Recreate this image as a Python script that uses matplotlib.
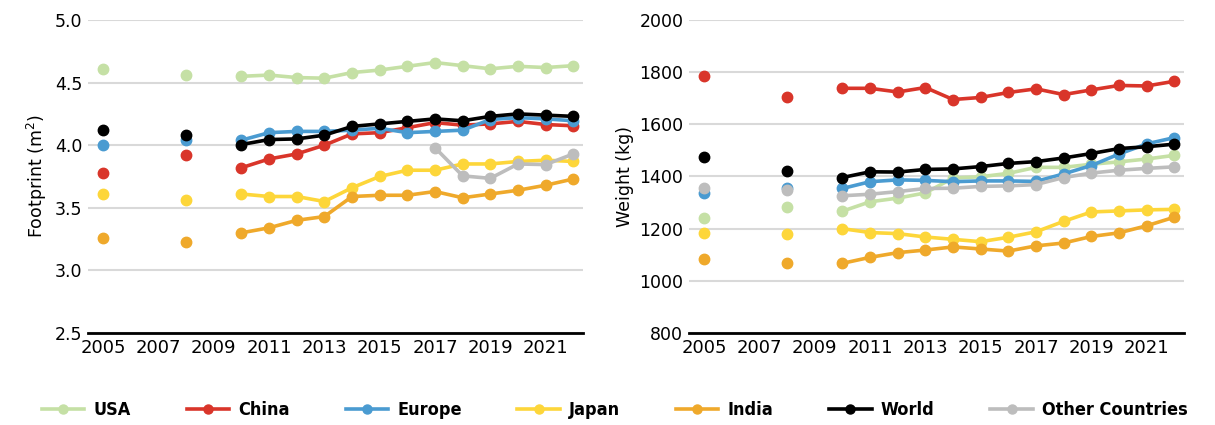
import matplotlib
matplotlib.use('Agg')
import matplotlib.pyplot as plt
from matplotlib.lines import Line2D
from matplotlib.ticker import FormatStrFormatter
import numpy as np

nan = np.nan

# years on the x axis (2006, 2007, 2009 have no data)
years = list(range(2005, 2023))

names = ['USA', 'China', 'Europe', 'Japan', 'India', 'World', 'Other Countries']
colors = ['#C5E0A5', '#D9352A', '#4A9BD1', '#FDD63A', '#EFA92B', '#000000', '#BDBDBD']

# footprint (m2)
fp_usa = [4.61, nan, nan, 4.56, nan, 4.55, 4.56, 4.54, 4.535, 4.58, 4.60, 4.63, 4.66, 4.635, 4.61, 4.63, 4.62, 4.635]
fp_china = [3.78, nan, nan, 3.92, nan, 3.82, 3.89, 3.93, 4.00, 4.09, 4.10, 4.14, 4.18, 4.16, 4.17, 4.19, 4.165, 4.155]
fp_europe = [4.00, nan, nan, 4.045, nan, 4.04, 4.10, 4.11, 4.11, 4.12, 4.135, 4.10, 4.11, 4.12, 4.205, 4.22, 4.21, 4.195]
fp_japan = [3.61, nan, nan, 3.56, nan, 3.61, 3.59, 3.59, 3.55, 3.66, 3.75, 3.80, 3.80, 3.85, 3.85, 3.87, 3.88, 3.87]
fp_india = [3.26, nan, nan, 3.23, nan, 3.30, 3.34, 3.40, 3.43, 3.59, 3.60, 3.60, 3.63, 3.58, 3.61, 3.64, 3.68, 3.73]
fp_world = [4.12, nan, nan, 4.08, nan, 4.005, 4.045, 4.05, 4.08, 4.15, 4.17, 4.19, 4.21, 4.195, 4.23, 4.25, 4.24, 4.23]
fp_other = [nan, nan, nan, nan, nan, nan, nan, nan, nan, nan, nan, nan, 3.98, 3.755, 3.735, 3.85, 3.845, 3.93]

# weight (kg)
wt_usa = [1240, nan, nan, 1282, nan, 1267, 1303, 1317, 1337, 1394, 1399, 1412, 1435, 1435, 1447, 1456, 1467, 1481]
wt_china = [1785, nan, nan, 1706, nan, 1738, 1738, 1724, 1741, 1695, 1703, 1722, 1736, 1714, 1732, 1749, 1747, 1765]
wt_europe = [1337, nan, nan, 1356, nan, 1354, 1380, 1387, 1385, 1380, 1383, 1383, 1381, 1410, 1442, 1486, 1525, 1549]
wt_japan = [1185, nan, nan, 1181, nan, 1200, 1185, 1181, 1168, 1159, 1150, 1167, 1188, 1228, 1264, 1268, 1272, 1274]
wt_india = [1082, nan, nan, 1067, nan, 1067, 1090, 1108, 1118, 1130, 1122, 1114, 1134, 1145, 1170, 1184, 1211, 1244]
wt_world = [1473, nan, nan, 1422, nan, 1396, 1418, 1417, 1427, 1429, 1438, 1450, 1457, 1471, 1488, 1507, 1514, 1524]
wt_other = [1355, nan, nan, 1347, nan, 1326, 1332, 1342, 1354, 1355, 1362, 1364, 1369, 1396, 1413, 1424, 1431, 1437]

footprint = [fp_usa, fp_china, fp_europe, fp_japan, fp_india, fp_world, fp_other]
weight = [wt_usa, wt_china, wt_europe, wt_japan, wt_india, wt_world, wt_other]

fig = plt.figure(figsize=(12.15, 4.25), dpi=100)
ax1 = fig.add_axes([0.0724, 0.2165, 0.4074, 0.7365])
ax2 = fig.add_axes([0.567, 0.2165, 0.4075, 0.7365])


def setup(ax, data, ylim, step, label):
    for vals, c in zip(data, colors):
        ax.plot(years, vals, color=c, lw=2.6, marker='o', markersize=7.5, solid_capstyle='round')
    ax.set_xlim(2004.45, 2022.35)
    ax.set_ylim(*ylim)
    ax.set_yticks(np.arange(ylim[0], ylim[1] + step / 2, step))
    ax.set_xticks(range(2005, 2023, 2))
    ax.grid(axis='y', color='#D9D9D9', lw=1.5)
    ax.set_axisbelow(True)
    for s in ['top', 'right', 'left']:
        ax.spines[s].set_visible(False)
    ax.spines['bottom'].set_color('black')
    ax.spines['bottom'].set_linewidth(2)
    ax.tick_params(length=0)
    ax.tick_params(axis='y', labelsize=12.5, pad=4)
    ax.tick_params(axis='x', labelsize=13, pad=4)
    ax.set_ylabel(label, fontsize=12.5, labelpad=4)


setup(ax1, footprint, (2.5, 5.0), 0.5, 'Footprint (m$^{2}$)')
ax1.yaxis.set_major_formatter(FormatStrFormatter('%.1f'))
setup(ax2, weight, (800, 2000), 200, 'Weight (kg)')

handles = [Line2D([], [], color=c, lw=2.6, marker='o', markersize=6.5) for c in colors]
fig.legend(handles, names, loc='center', bbox_to_anchor=(0.506, 0.035), ncol=7, frameon=False,
           handlelength=2.35, handletextpad=0.5, columnspacing=3.1,
           prop={'family': 'DejaVu Sans', 'weight': 'bold', 'stretch': 'condensed', 'size': 13})

plt.savefig('out.png', dpi=100)
